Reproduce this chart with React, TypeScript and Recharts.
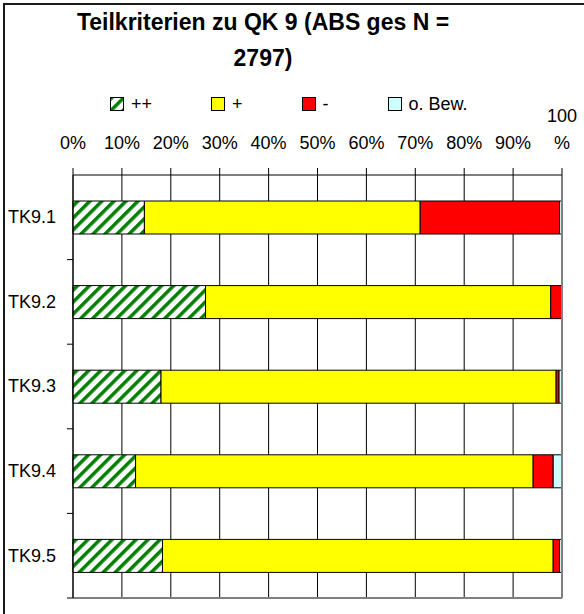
import React from "react";
import { BarChart, Bar, XAxis, YAxis, CartesianGrid, Legend, ReferenceLine } from "recharts";

const categories = ["TK9.1", "TK9.2", "TK9.3", "TK9.4", "TK9.5"];
const veryGood = [14.6, 27.1, 18.0, 12.8, 18.3];
const good = [56.4, 70.6, 80.8, 81.3, 79.9];
const bad = [28.5, 2.3, 0.6, 4.1, 1.3];
const noRating = [0.5, 0, 0.6, 1.8, 0.5];
const xTicks = [0, 10, 20, 30, 40, 50, 60, 70, 80, 90, 100];

const series = [
  { key: "pp", name: "++", fill: "url(#hatchGreen)" },
  { key: "p", name: "+", fill: "#FFFF00" },
  { key: "m", name: "-", fill: "#FF0000" },
  { key: "o", name: "o. Bew.", fill: "#CCFFFF" },
];

const data = categories.map((name, i) => ({
  name,
  pp: veryGood[i],
  p: good[i],
  m: bad[i],
  o: noRating[i],
}));

const font = "'Liberation Sans', Arial, sans-serif";

function PercentTick(props: any) {
  const { x, y, payload } = props;
  const v = payload.value;
  if (v === 100) {
    return (
      <g>
        <text x={x} y={y - 46} textAnchor="middle" fontSize={18} fontFamily={font} fill="#000">100</text>
        <text x={x} y={y - 19} textAnchor="middle" fontSize={18} fontFamily={font} fill="#000">%</text>
      </g>
    );
  }
  return (
    <text x={x} y={y - 19} textAnchor="middle" fontSize={18} fontFamily={font} fill="#000">
      {v}%
    </text>
  );
}

function CategoryTick(props: any) {
  const { x, y, payload } = props;
  const half = payload.offset ?? 0;
  return (
    <g>
      <text x={x - 65} y={y} dy="0.33em" fontSize={18} fontFamily={font} fill="#000">
        {payload.value}
      </text>
      <line x1={x - 6} x2={x} y1={y + half} y2={y + half} stroke="#000" />
    </g>
  );
}

function Swatch({ fill }: { fill: string }) {
  return (
    <svg width={14} height={14} style={{ display: "block" }}>
      <defs>
        <pattern id="hatchLegend" patternUnits="userSpaceOnUse" width={8.5} height={8.5} patternTransform="rotate(45)">
          <rect width={8.5} height={8.5} fill="#fff" />
          <rect width={3.5} height={8.5} fill="#008000" />
        </pattern>
      </defs>
      <rect x={0.5} y={0.5} width={13} height={13}
        fill={fill === "url(#hatchGreen)" ? "url(#hatchLegend)" : fill} stroke="#000" />
    </svg>
  );
}

function LegendRow() {
  return (
    <div style={{ display: "flex", alignItems: "center", height: 24, paddingLeft: 110, fontFamily: font, fontSize: 18 }}>
      {series.map((s) => (
        <div key={s.key} style={{ display: "flex", alignItems: "center", marginRight: 59 }}>
          <Swatch fill={s.fill} />
          <span style={{ marginLeft: 7 }}>{s.name}</span>
        </div>
      ))}
    </div>
  );
}

export default function App() {
  return (
    <div style={{ position: "absolute", left: 0, top: 0, width: 584, height: 614, overflow: "hidden", background: "#fff" }}>
      <div style={{
        position: "absolute", left: 0, top: 4, width: 526, textAlign: "center",
        fontFamily: font, fontWeight: "bold", fontSize: 23, lineHeight: "36px", color: "#000",
      }}>
        Teilkriterien zu QK 9 (ABS ges N =<br />2797)
      </div>
      <BarChart
        width={584}
        height={614}
        data={data}
        layout="vertical"
        barSize={33}
        margin={{ top: 92, right: 22, bottom: 15, left: 0 }}
      >
        <defs>
          <pattern id="hatchGreen" patternUnits="userSpaceOnUse" width={8.5} height={8.5} patternTransform="rotate(45)">
            <rect width={8.5} height={8.5} fill="#fff" />
            <rect width={3.5} height={8.5} fill="#008000" />
          </pattern>
        </defs>
        <Legend verticalAlign="top" align="left" content={() => <LegendRow />}
          wrapperStyle={{ top: 92, left: 0, width: 584, height: 24 }} />
        <CartesianGrid horizontal={false} stroke="#000" />
        <XAxis
          type="number"
          orientation="top"
          domain={[0, 100]}
          ticks={xTicks}
          interval={0}
          tickSize={7}
          tickMargin={0}
          height={59}
          tick={<PercentTick />}
          axisLine={{ stroke: "#000" }}
          tickLine={{ stroke: "#000" }}
        />
        <XAxis
          xAxisId="edge"
          type="number"
          orientation="bottom"
          domain={[0, 100]}
          height={1}
          tick={false}
          tickLine={false}
          axisLine={{ stroke: "#808080", strokeWidth: 2 }}
        />
        <YAxis
          type="category"
          dataKey="name"
          width={73}
          tickSize={0}
          tickMargin={0}
          tickLine={false}
          tick={<CategoryTick />}
          axisLine={{ stroke: "#000" }}
        />
        <ReferenceLine x={100} stroke="#808080" strokeWidth={2} />
        {series.map((s) => (
          <Bar key={s.key} dataKey={s.key} name={s.name} stackId="a" fill={s.fill}
            stroke="#000" strokeWidth={1} isAnimationActive={false} />
        ))}
      </BarChart>
      <div style={{
        position: "absolute", left: 3, top: 3, width: 640, height: 660,
        border: "2px solid #1a1a1a", pointerEvents: "none",
      }} />
    </div>
  );
}
